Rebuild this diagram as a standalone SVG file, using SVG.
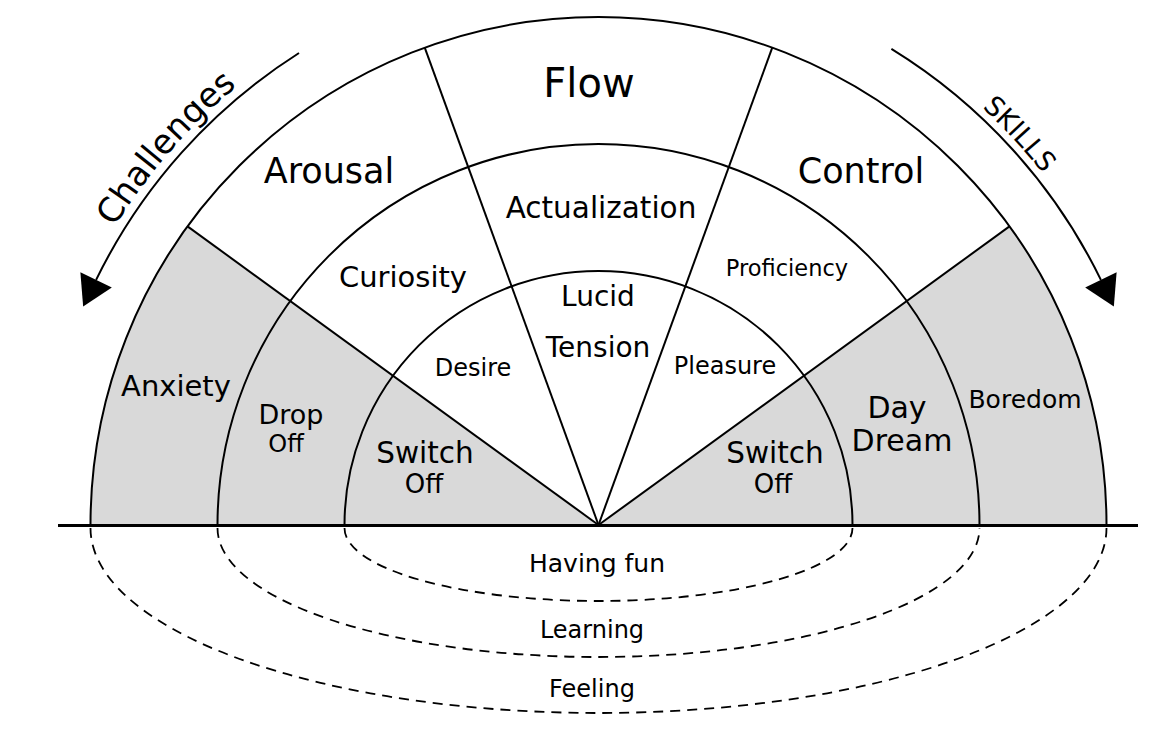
<svg xmlns="http://www.w3.org/2000/svg" width="1169" height="740" viewBox="0 0 1169 740">
<style>
  text { font-family: "DejaVu Sans", "Liberation Sans", sans-serif; fill: #000; text-anchor: middle; }
  .shade { fill: #d9d9d9; stroke: none; }
  .ring { fill: none; stroke: #000; stroke-width: 2; }
  .ray { stroke: #000; stroke-width: 2; }
  .base { stroke: #000; stroke-width: 3.2; }
  .dash { fill: none; stroke: #000; stroke-width: 1.8; stroke-dasharray: 10 7; }
  .arc-arrow { fill: none; stroke: #000; stroke-width: 2; marker-end: url(#tri); }
</style>
<defs>
  <marker id="tri" markerUnits="userSpaceOnUse" viewBox="0 -18 30 36" markerWidth="30" markerHeight="36" refX="0" refY="0" orient="auto" overflow="visible">
    <path d="M0,-17.5 L29.5,0 L0,17.5 Z" fill="#000"/>
  </marker>
  <path id="pathChallenges" d="M 64.8,330.7 A 570,570 0 0 1 404.2,-10"/>
  <path id="pathSkills" d="M 792.8,-8 A 566,566 0 0 1 1130,330.7"/>
</defs>

<rect width="1169" height="740" fill="#fff"/>

<!-- shaded cells -->
<g id="anxiety">
  <path class="shade" d="M90.5,525 A508,508 0 0 1 187.52,226.40 L290.26,301.05 A381,381 0 0 0 217.5,525 Z"/>
  <text x="176" y="396" font-size="29">Anxiety</text>
</g>
<g id="drop-off">
  <path class="shade" d="M217.5,525 A381,381 0 0 1 290.26,301.05 L393.01,375.70 A254,254 0 0 0 344.5,525 Z"/>
  <text x="291" y="424" font-size="27">Drop</text>
  <text x="286" y="452" font-size="24">Off</text>
</g>
<g id="switch-off-left">
  <path class="shade" d="M344.5,525 A254,254 0 0 1 393.01,375.70 L598.5,525 Z"/>
  <text x="425" y="463" font-size="29.5">Switch</text>
  <text x="424" y="493" font-size="26">Off</text>
</g>
<g id="boredom">
  <path class="shade" d="M1106.5,525 A508,508 0 0 0 1009.48,226.40 L906.74,301.05 A381,381 0 0 1 979.5,525 Z"/>
  <text x="1025" y="408" font-size="25">Boredom</text>
</g>
<g id="day-dream">
  <path class="shade" d="M979.5,525 A381,381 0 0 0 906.74,301.05 L803.99,375.70 A254,254 0 0 1 852.5,525 Z"/>
  <text x="897" y="418" font-size="30">Day</text>
  <text x="902" y="451" font-size="30">Dream</text>
</g>
<g id="switch-off-right">
  <path class="shade" d="M852.5,525 A254,254 0 0 0 803.99,375.70 L598.5,525 Z"/>
  <text x="775" y="463" font-size="29.5">Switch</text>
  <text x="773" y="493" font-size="26">Off</text>
</g>

<!-- white cells -->
<g id="arousal"><text x="329" y="183" font-size="35">Arousal</text></g>
<g id="flow"><text x="589" y="97" font-size="40">Flow</text></g>
<g id="control"><text x="861" y="183" font-size="35">Control</text></g>
<g id="curiosity"><text x="403" y="287" font-size="29">Curiosity</text></g>
<g id="actualization"><text x="601" y="218" font-size="29.5">Actualization</text></g>
<g id="proficiency"><text x="787" y="276" font-size="22.5">Proficiency</text></g>
<g id="desire"><text x="473" y="376" font-size="24">Desire</text></g>
<g id="lucid-tension">
  <text x="598" y="306" font-size="28">Lucid</text>
  <text x="598" y="357" font-size="28">Tension</text>
</g>
<g id="pleasure"><text x="725" y="374" font-size="24">Pleasure</text></g>

<!-- structure lines -->
<g id="grid">
  <path class="ring" d="M90.5,525 A508,508 0 0 1 1106.5,525"/>
  <path class="ring" d="M217.5,525 A381,381 0 0 1 979.5,525"/>
  <path class="ring" d="M344.5,525 A254,254 0 0 1 852.5,525"/>
  <line class="ray" x1="598.5" y1="525" x2="187.52" y2="226.40"/>
  <line class="ray" x1="598.5" y1="525" x2="424.75" y2="47.64"/>
  <line class="ray" x1="598.5" y1="525" x2="772.25" y2="47.64"/>
  <line class="ray" x1="598.5" y1="525" x2="1009.48" y2="226.40"/>
  <line class="base" x1="58" y1="525.5" x2="1138" y2="525.5"/>
</g>

<!-- lower bands -->
<g id="having-fun">
  <path class="dash" d="M344.5,528 A254,73 0 0 0 852.5,528"/>
  <text x="597" y="572" font-size="25">Having fun</text>
</g>
<g id="learning">
  <path class="dash" d="M217.5,528 A381,129 0 0 0 979.5,528"/>
  <text x="592" y="638" font-size="24">Learning</text>
</g>
<g id="feeling">
  <path class="dash" d="M90.5,528 A508,185 0 0 0 1106.5,528"/>
  <text x="592" y="697" font-size="24">Feeling</text>
</g>

<!-- connectors -->
<g id="connectors">
  <path class="arc-arrow" d="M299,53 A559,559 0 0 0 96.1,279.9"/>
  <path class="arc-arrow" d="M891.4,48.9 A559,559 0 0 1 1100.9,279.9"/>
</g>
<g id="challenges-label">
  <text font-size="34"><textPath href="#pathChallenges" startOffset="209">Challenges</textPath></text>
</g>
<g id="skills-label">
  <text font-size="27"><textPath href="#pathSkills" startOffset="268">SKILLS</textPath></text>
</g>
</svg>
